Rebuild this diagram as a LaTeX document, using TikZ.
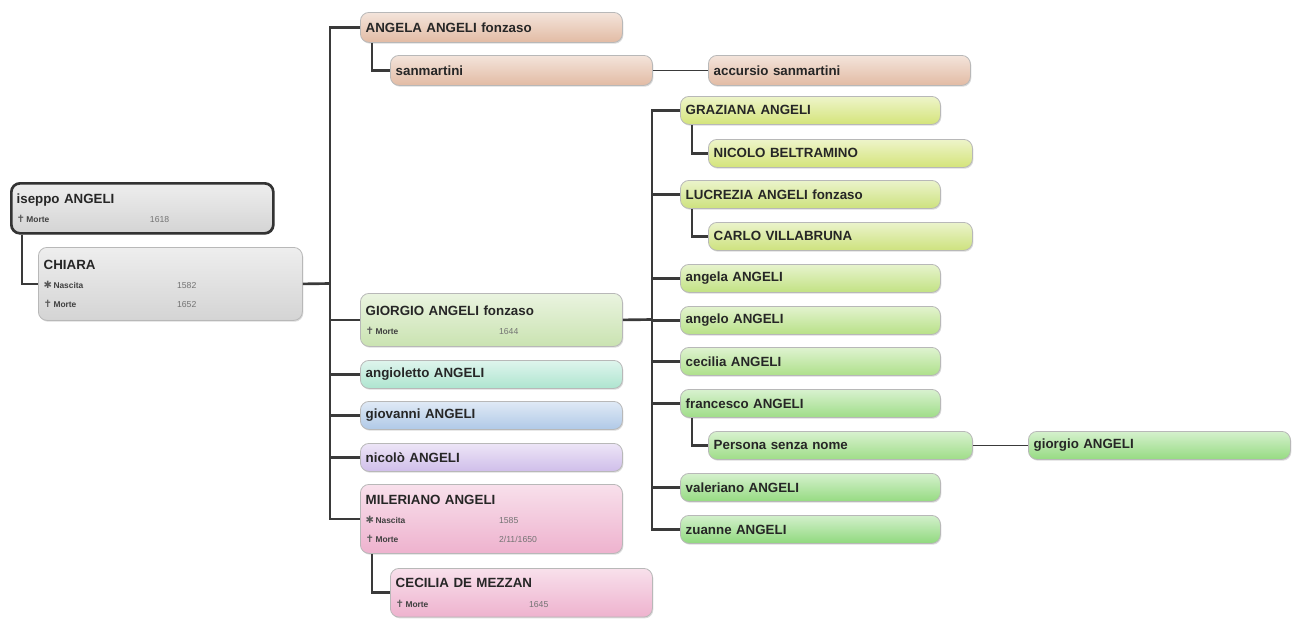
\documentclass[tikz,border=0pt]{standalone}
\usepackage{fontspec}
\setmainfont{Liberation Sans}
\newfontfamily\symfont{DejaVu Sans}
\usetikzlibrary{shadows}
\definecolor{cGrey}{HTML}{D4D4D4}
\definecolor{cPeach}{HTML}{E2BBA4}
\definecolor{cGio}{HTML}{CAE3B1}
\definecolor{cTeal}{HTML}{AEE5D0}
\definecolor{cBlue}{HTML}{B0C9E7}
\definecolor{cLav}{HTML}{D0BEEA}
\definecolor{cPink}{HTML}{EEB2CE}
\definecolor{cY1}{HTML}{D4E47A}
\definecolor{cY2}{HTML}{CDE27E}
\definecolor{cG1}{HTML}{C2E283}
\definecolor{cG2}{HTML}{B8E187}
\definecolor{cG3}{HTML}{AEE08A}
\definecolor{cG4}{HTML}{9FDD88}
\definecolor{cG5}{HTML}{96DB82}
\definecolor{cG6}{HTML}{90D97E}
\definecolor{lineC}{HTML}{3A3A3A}
\newcommand\evrow[3]{{\fontsize{6.3}{14.5}\selectfont\makebox[100pt][l]{{\symfont\fontsize{7.5}{14.5}\selectfont\color{black!65}#1}\,\color{black!75}#2}{\mdseries\color{black!55}\fontsize{6.5}{14.5}\selectfont #3}}}
\begin{document}
\begin{tikzpicture}[x=0.75pt,y=-0.75pt,
  person/.style={rectangle, rounded corners=6.5pt, anchor=north west,
    minimum width=196.5pt, minimum height=21pt, text width=188.5pt,
    inner xsep=4pt, inner ysep=0pt, align=left,
    font=\bfseries\fontsize{10}{14.5}\selectfont, text=black!85,
    draw=black!28, line width=0.6pt,
    top color=#1!40!white, bottom color=#1,
    drop shadow={opacity=0.28, shadow xshift=0.7pt, shadow yshift=-1pt}},
  tree/.style={draw=lineC, line width=2pt},
  thin/.style={draw=lineC, line width=1.3pt}]
\useasboundingbox (0,0) rectangle (1296,619);

% nodes
\node[person=cGrey, minimum height=37.5pt, draw=black!80, line width=2pt] (iseppo) at (10,182)
  {iseppo ANGELI\\\evrow{✝}{Morte}{1618}};
\node[person=cGrey, minimum width=198pt, text width=190pt, minimum height=54.75pt] (chiara) at (38,247)
  {CHIARA\\\evrow{✱}{Nascita}{1582}\\\evrow{✝}{Morte}{1652}};

\node[person=cPeach, minimum height=22.5pt] (angela) at (360,12) {ANGELA ANGELI fonzaso};
\node[person=cPeach, minimum height=22.5pt] (sanm) at (390,55) {sanmartini};
\node[person=cPeach, minimum height=22.5pt] (accursio) at (708,55) {accursio sanmartini};

\node[person=cGio, minimum height=39.75pt] (giorgioF) at (360,293)
  {GIORGIO ANGELI fonzaso\\\evrow{✝}{Morte}{1644}};
\node[person=cTeal] (angioletto) at (360,360) {angioletto ANGELI};
\node[person=cBlue] (giovanni) at (360,401) {giovanni ANGELI};
\node[person=cLav] (nicolo) at (360,443) {nicolò ANGELI};
\node[person=cPink, minimum height=51.75pt] (mileriano) at (360,484)
  {MILERIANO ANGELI\\\evrow{✱}{Nascita}{1585}\\\evrow{✝}{Morte}{2/11/1650}};
\node[person=cPink, minimum height=36.5pt] (cecilia) at (390,568)
  {CECILIA DE MEZZAN\\\evrow{✝}{Morte}{1645}};

\node[person=cY1, minimum width=195pt, text width=187pt] (graziana) at (680,96) {GRAZIANA ANGELI};
\node[person=cY1, minimum width=198pt, text width=190pt] (beltramino) at (708,139) {NICOLO BELTRAMINO};
\node[person=cY2, minimum width=195pt, text width=187pt] (lucrezia) at (680,180) {LUCREZIA ANGELI fonzaso};
\node[person=cY2, minimum width=198pt, text width=190pt] (carlo) at (708,222) {CARLO VILLABRUNA};
\node[person=cG1, minimum width=195pt, text width=187pt] (angelaA) at (680,264) {angela ANGELI};
\node[person=cG2, minimum width=195pt, text width=187pt] (angelo) at (680,306) {angelo ANGELI};
\node[person=cG3, minimum width=195pt, text width=187pt] (ceciliaA) at (680,347) {cecilia ANGELI};
\node[person=cG4, minimum width=195pt, text width=187pt] (francesco) at (680,389) {francesco ANGELI};
\node[person=cG4, minimum width=198pt, text width=190pt] (persona) at (708,431) {Persona senza nome};
\node[person=cG5, minimum width=196.5pt] (giorgioA) at (1028,431) {giorgio ANGELI};
\node[person=cG5, minimum width=195pt, text width=187pt] (valeriano) at (680,473) {valeriano ANGELI};
\node[person=cG6, minimum width=195pt, text width=187pt] (zuanne) at (680,515) {zuanne ANGELI};

% junctions
\coordinate (j1) at (330,283.5);
\coordinate (j2) at (652,319.5);

% connectors
\draw[tree] ([xshift=9pt]iseppo.south west) |- (chiara.west);
\draw[tree] (chiara.east) -- (j1);
\draw[tree] (angela.west) -| (j1);
\draw[tree] (mileriano.west) -| (j1);
\draw[tree] (giorgioF.west) -- (giorgioF.west -| j1);
\draw[tree] (angioletto.west) -- (angioletto.west -| j1);
\draw[tree] (giovanni.west) -- (giovanni.west -| j1);
\draw[tree] (nicolo.west) -- (nicolo.west -| j1);

\draw[tree] ([xshift=9pt]angela.south west) |- (sanm.west);
\draw[thin] (sanm.east) -- (accursio.west);
\draw[tree] ([xshift=9pt]mileriano.south west) |- (cecilia.west);

\draw[tree] (giorgioF.east) -- (j2);
\draw[tree] (graziana.west) -| (j2);
\draw[tree] (zuanne.west) -| (j2);
\draw[tree] (lucrezia.west) -- (lucrezia.west -| j2);
\draw[tree] (angelaA.west) -- (angelaA.west -| j2);
\draw[tree] (angelo.west) -- (angelo.west -| j2);
\draw[tree] (ceciliaA.west) -- (ceciliaA.west -| j2);
\draw[tree] (francesco.west) -- (francesco.west -| j2);
\draw[tree] (valeriano.west) -- (valeriano.west -| j2);

\draw[tree] ([xshift=9pt]graziana.south west) |- (beltramino.west);
\draw[tree] ([xshift=9pt]lucrezia.south west) |- (carlo.west);
\draw[tree] ([xshift=9pt]francesco.south west) |- (persona.west);
\draw[thin] (persona.east) -- (giorgioA.west);
\end{tikzpicture}
\end{document}
